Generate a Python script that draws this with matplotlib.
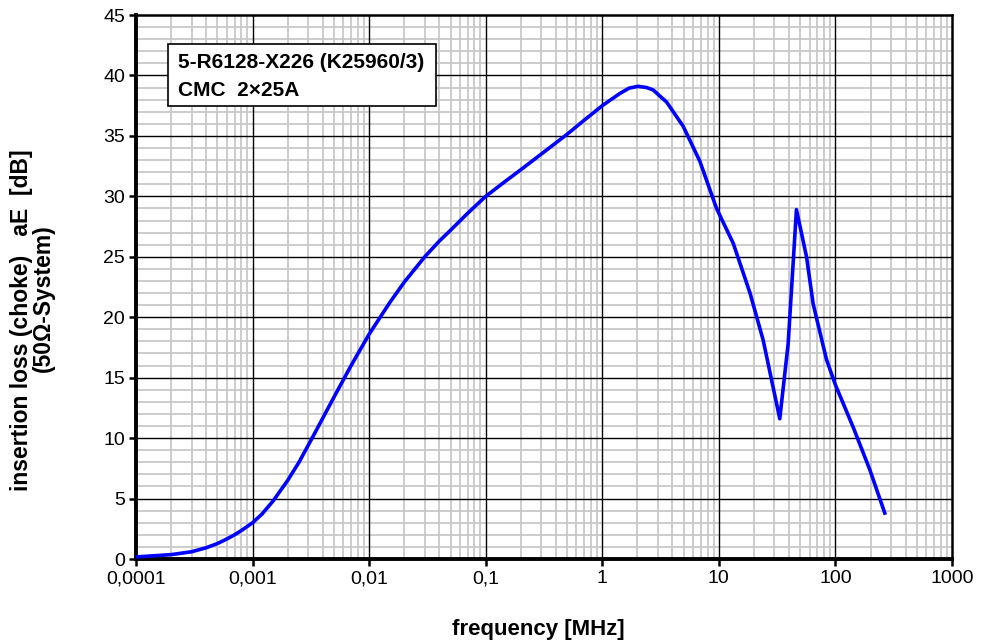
import numpy as np
from matplotlib import pyplot as plt
from matplotlib.patches import Rectangle
from matplotlib.ticker import FixedLocator, MultipleLocator, LogLocator, NullFormatter

plt.rcParams['font.family'] = ['Liberation Sans', 'DejaVu Sans']

# curve (MHz, dB)
freq = [0.0001, 0.0002, 0.0003, 0.0004, 0.0005, 0.0006, 0.0007, 0.0008, 0.001, 0.0012,
        0.0015, 0.002, 0.0025, 0.0032, 0.005, 0.007, 0.01, 0.015, 0.02, 0.03, 0.04,
        0.05, 0.07, 0.1, 0.15, 0.2, 0.3, 0.494, 0.7, 1.0, 1.41, 1.7, 2.03, 2.4,
        2.73, 3.56, 4.94, 6.87, 9.55, 13.3, 18.5, 24.0, 33.3, 39.3, 46.3, 56.5,
        64.4, 83.8, 100, 142, 197, 265]
loss = [0.17, 0.36, 0.6, 0.93, 1.28, 1.65, 2.0, 2.35, 3.0, 3.7,
        4.8, 6.5, 8.0, 9.9, 13.4, 16.0, 18.6, 21.2, 22.9, 25.0, 26.3,
        27.2, 28.6, 30.0, 31.3, 32.2, 33.5, 35.1, 36.3, 37.5, 38.5, 38.95, 39.1, 39.0,
        38.8, 37.8, 35.8, 32.9, 29.0, 26.1, 22.0, 18.1, 11.6, 17.8, 28.9, 25.0,
        21.1, 16.5, 14.4, 10.9, 7.4, 3.8]

xticks = [0.0001, 0.001, 0.01, 0.1, 1, 10, 100, 1000]
xlabels = ['0,0001', '0,001', '0,01', '0,1', '1', '10', '100', '1000']
yticks = list(range(0, 50, 5))

fig = plt.figure(figsize=(9.81, 6.44), dpi=100)
ax = fig.add_axes([136/981, 85/644, 816/981, 544/644])

ax.plot(freq, loss, color='#0000ff', lw=2.6, zorder=5, solid_joinstyle='round')

ax.set_xscale('log')
ax.set_xlim(1e-4, 1e3)
ax.set_ylim(0, 45)
ax.xaxis.set_major_locator(FixedLocator(xticks))
ax.set_xticklabels(xlabels)
ax.xaxis.set_minor_locator(LogLocator(base=10, subs=np.arange(2, 10), numticks=20))
ax.xaxis.set_minor_formatter(NullFormatter())
ax.yaxis.set_major_locator(FixedLocator(yticks))
ax.yaxis.set_minor_locator(MultipleLocator(1))

# grey minor grid below, black major grid on top of it
ax.set_axisbelow(True)
ax.grid(which='minor', color='#c8c8c8', lw=1.3)
for x in xticks[1:-1]:
    ax.axvline(x, color='black', lw=1.0, zorder=2)
for y in yticks[1:-1]:
    ax.axhline(y, color='black', lw=1.0, zorder=2)

ax.tick_params(which='major', direction='out', length=5, width=1.8, labelsize=14, pad=3)
ax.tick_params(which='minor', length=0)
for s in ['left', 'bottom']:
    ax.spines[s].set_linewidth(2.8)
for s in ['top', 'right']:
    ax.spines[s].set_linewidth(1.8)

fig.text(538/981, 1 - 630/644, 'frequency [MHz]', fontsize=16, fontweight='bold',
         ha='center', va='center')
fig.text(22/981, 1 - 320/644, 'insertion loss (choke)   aE  [dB]', fontsize=16.5,
         fontweight='bold', rotation=90, ha='center', va='center')
fig.text(43/981, 1 - 298/644, '(50\u03a9-System)', fontsize=16.5,
         fontweight='bold', rotation=90, ha='center', va='center')

ax.add_patch(Rectangle((0.0392, 0.8327), 0.3284, 0.114, transform=ax.transAxes,
                       fc='white', ec='black', lw=1.2, zorder=6))
ax.text(0.0515, 0.9118, '5-R6128-X226 (K25960/3)', transform=ax.transAxes,
        fontsize=15, fontweight='bold', va='center', ha='left', zorder=7)
ax.text(0.0515, 0.8621, 'CMC  2\u00d725A', transform=ax.transAxes,
        fontsize=15, fontweight='bold', va='center', ha='left', zorder=7)

fig.savefig('out.png', dpi=100)
